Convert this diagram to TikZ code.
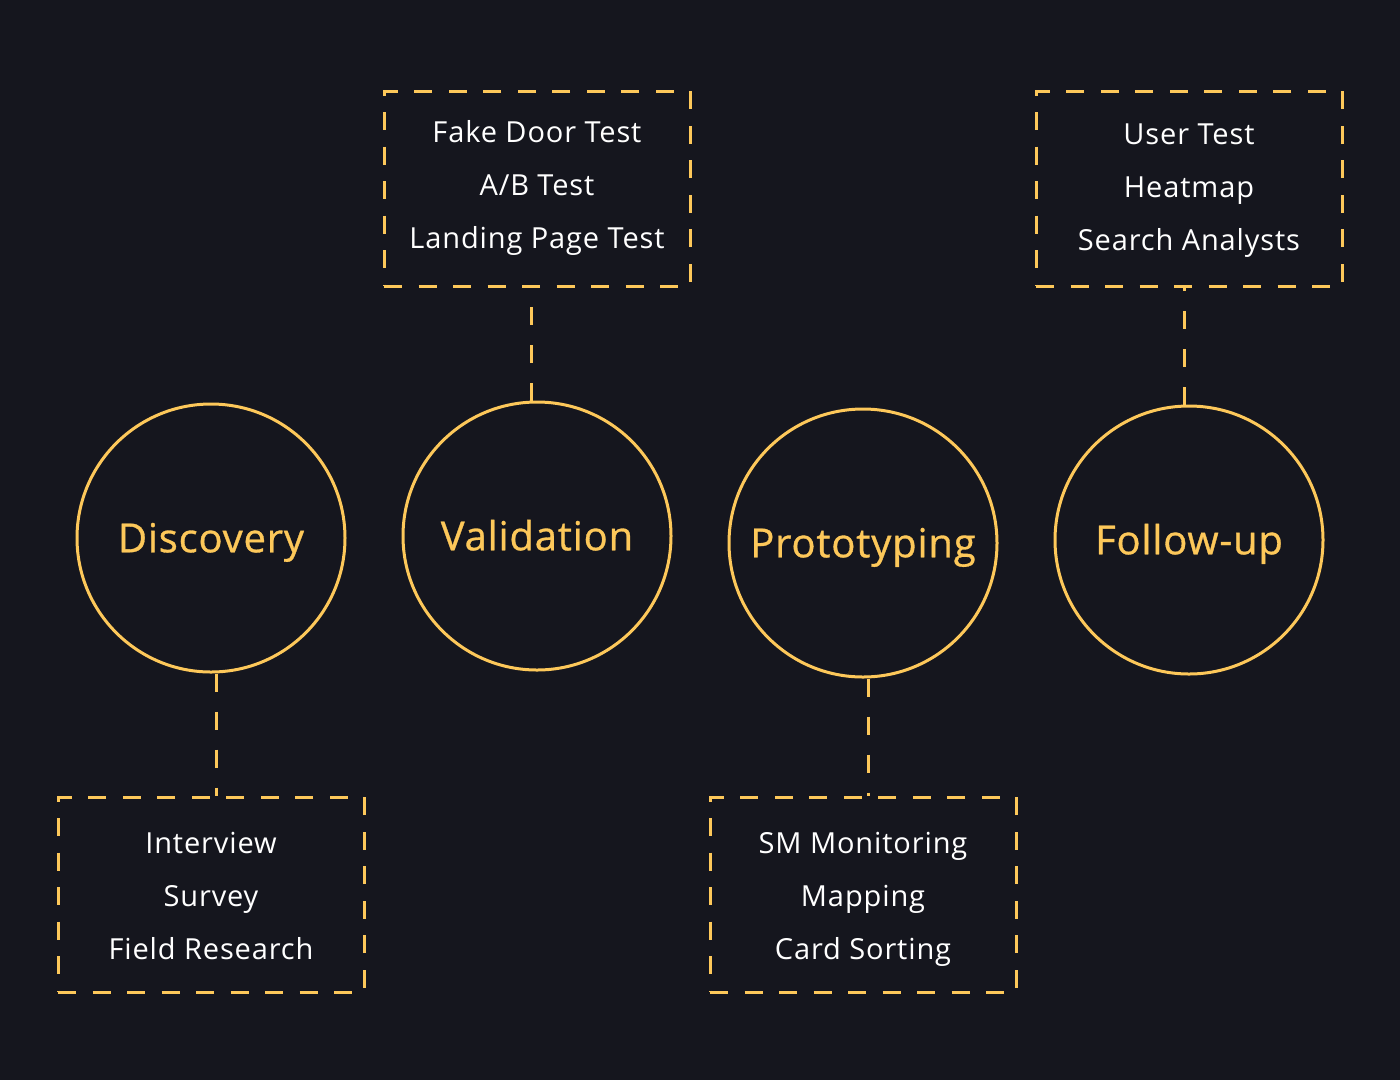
\documentclass[tikz,border=0pt]{standalone}
\usepackage{fontspec}
\setmainfont[LetterSpace=3]{Open Sans}
\newfontfamily\labfont[FakeBold=0.8,LetterSpace=2]{Open Sans}
\definecolor{bg}{HTML}{15161E}
\definecolor{gold}{HTML}{FDC85A}
\tikzset{
  stage/.style={circle, draw=gold, line width=3pt, minimum size=268pt, inner sep=0pt,
    text=gold, font=\labfont\fontsize{40}{48}\selectfont, text height=28.5pt, text depth=0pt},
  toolbox/.style={draw=gold, line width=3pt, dash pattern=on 18pt off 16.5pt,
    minimum width=306pt, minimum height=195pt, inner sep=0pt},
  tool/.style={text=white, font=\fontsize{29}{35}\selectfont, text height=20.7pt, text depth=0pt, inner sep=0pt},
  link/.style={draw=gold, line width=3pt, dash pattern=on 18pt off 20pt}
}
\begin{document}
\begin{tikzpicture}[x=1pt,y=-1pt]
\fill[bg] (0,0) rectangle (1400,1080);
\useasboundingbox (0,0) rectangle (1400,1080);
\node[stage] (disc) at (211,538) {Discovery};
\node[stage] (val) at (537,536) {Validation};
\node[stage] (proto) at (863,543) {Prototyping};
\node[stage] (foll) at (1189,540) {Follow-up};
\node[toolbox] (vbox) at (537,188.5) {};
\node[toolbox] (fbox) at (1189,188.5) {};
\node[toolbox] (dbox) at (211,894.5) {};
\node[toolbox] (pbox) at (863,894.5) {};
\node[tool] (v1) at ([yshift=56pt]vbox.center) {Fake Door Test};
\node[tool] (v2) at ([yshift=3pt]vbox.center) {A/B Test};
\node[tool] (v3) at ([yshift=-50pt]vbox.center) {Landing Page Test};
\node[tool] (f1) at ([yshift=54pt]fbox.center) {User Test};
\node[tool] (f2) at ([yshift=1pt]fbox.center) {Heatmap};
\node[tool] (f3) at ([yshift=-52pt]fbox.center) {Search Analysts};
\node[tool] (d1) at ([yshift=51pt]dbox.center) {Interview};
\node[tool] (d2) at ([yshift=-2pt]dbox.center) {Survey};
\node[tool] (d3) at ([yshift=-55pt]dbox.center) {Field Research};
\node[tool] (p1) at ([yshift=51pt]pbox.center) {SM Monitoring};
\node[tool] (p2) at ([yshift=-2pt]pbox.center) {Mapping};
\node[tool] (p3) at ([yshift=-55pt]pbox.center) {Card Sorting};
\draw[link] ([xshift=-6pt]vbox.south |- val.north) -- ([xshift=-6pt]vbox.south);
\draw[link] ([xshift=-5pt]fbox.south |- foll.north) -- ([xshift=-5pt]fbox.south);
\draw[link] ([xshift=5pt]disc.south) -- ([xshift=5pt]disc.south |- dbox.north);
\draw[link] ([xshift=5pt]proto.south) -- ([xshift=5pt]proto.south |- pbox.north);
\end{tikzpicture}
\end{document}
